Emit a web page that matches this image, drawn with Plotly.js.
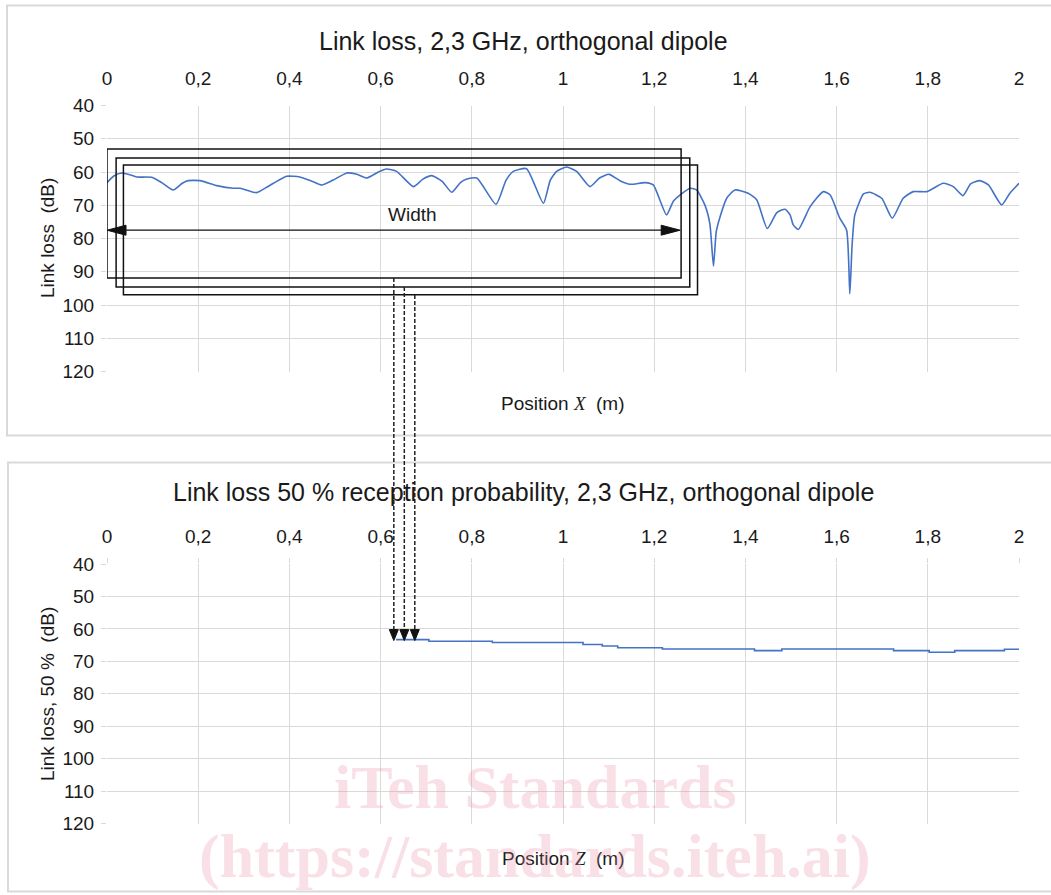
<!DOCTYPE html>
<html><head><meta charset="utf-8">
<script src="https://cdn.plot.ly/plotly-3.0.1.min.js"></script>
<style>html,body{margin:0;padding:0;background:#fff;}</style>
</head><body>
<div id="chart" style="width:1051px;height:895px;"></div>
<script>
// ---- data ----
const positionX = [0.000,0.015,0.032,0.050,0.065,0.098,0.120,0.145,0.165,0.178,0.204,0.241,0.277,0.292,0.328,0.350,0.365,0.394,0.423,0.452,0.471,0.496,0.526,0.548,0.570,0.595,0.613,0.635,0.672,0.692,0.712,0.735,0.756,0.775,0.789,0.811,0.853,0.875,0.891,0.920,0.957,0.972,0.986,1.008,1.030,1.059,1.080,1.101,1.125,1.147,1.180,1.198,1.227,1.242,1.257,1.279,1.293,1.311,1.322,1.330,1.336,1.344,1.359,1.377,1.406,1.425,1.448,1.469,1.487,1.498,1.505,1.516,1.542,1.571,1.586,1.607,1.622,1.629,1.634,1.640,1.659,1.673,1.699,1.722,1.746,1.768,1.798,1.834,1.856,1.877,1.894,1.914,1.933,1.962,1.980,2.000];
const linkLoss = [63.2,61.2,60.3,60.8,61.5,61.6,63.2,65.4,63.4,62.6,62.6,64.1,64.9,64.9,66.2,64.6,63.4,61.3,61.5,62.9,63.9,62.4,60.3,60.7,61.8,60.0,59.1,59.8,64.4,62.2,61.1,62.8,66.1,63.2,62.1,61.8,69.7,62.5,59.8,59.0,69.4,62.5,59.8,58.5,59.8,64.4,61.8,60.7,62.6,63.7,63.2,63.9,72.9,68.8,66.9,64.9,65.4,69.9,75.5,88.3,78.0,73.7,67.9,65.4,66.4,68.4,77.0,72.2,71.2,72.9,75.9,77.3,70.4,65.9,66.9,73.9,77.5,96.6,82.0,72.9,66.6,66.1,67.9,73.9,67.9,65.9,65.9,63.4,64.4,67.1,63.6,62.6,63.9,69.9,66.4,63.4];

const positionZ = [0.634,0.706,0.845,1.044,1.086,1.120,1.218,1.420,1.480,1.725,1.803,1.859,1.968,2.000];
const linkLoss50 = [63.3,63.8,64.2,64.8,65.3,65.8,66.2,66.7,66.2,66.7,67.2,66.7,66.3,66.3];

const xTickVals = [0,0.2,0.4,0.6,0.8,1,1.2,1.4,1.6,1.8,2];
const xTickText = ['0','0,2','0,4','0,6','0,8','1','1,2','1,4','1,6','1,8','2'];
const yTickVals = [40,50,60,70,80,90,100,110,120];
const yTickText = ['40','50','60','70','80','90','100','110','120'];

// annotation geometry (dB / m) for the illustrative "Width" windows
const windowLeft = [0, 0.02, 0.036];
const windowRight = [1.259, 1.278, 1.295];
const windowTop = [53.1, 55.8, 57.9];
const windowBottom = [91.9, 94.6, 96.9];
const windowCentre = [0.629, 0.652, 0.675];

// ---- layout helpers ----
const W = 1051, H = 895;
const px = p => p / W;
const py = p => 1 - p / H;
const FONT = '"Liberation Sans", Arial, sans-serif';
const TXT = '#1a1a1a';
const GRID = '#d9d9d9';
const BLUE = '#4472C4';

const traces = [
  {x: positionX, y: linkLoss, xaxis: 'x', yaxis: 'y', type: 'scatter', mode: 'lines',
   line: {color: BLUE, width: 1.6, shape: 'spline', smoothing: 0.55}, hoverinfo: 'x+y'},
  {x: positionZ, y: linkLoss50, xaxis: 'x2', yaxis: 'y2', type: 'scatter', mode: 'lines',
   line: {color: BLUE, width: 1.6, shape: 'hv'}, hoverinfo: 'x+y'}
];

function xAx(anchor, tl) {
  return {domain: [px(107), px(1019)], range: [0, 2], anchor: anchor, side: 'top',
    tickvals: xTickVals, ticktext: xTickText, showgrid: true, gridcolor: GRID, gridwidth: 1,
    zeroline: false, showline: false, ticks: 'outside', ticklen: tl, tickcolor: GRID,
    ticklabelstandoff: 12 - tl, tickfont: {family: FONT, size: 19, color: TXT}, fixedrange: true};
}
function yAx(anchor, dom) {
  return {domain: dom, range: [120, 40], anchor: anchor,
    tickvals: yTickVals, ticktext: yTickText, showgrid: true, gridcolor: GRID, gridwidth: 1,
    zeroline: false, showline: false, ticks: 'outside', ticklen: 5, tickcolor: GRID,
    ticklabelstandoff: 3, tickfont: {family: FONT, size: 19, color: TXT}, fixedrange: true};
}

const shapes = [];
// panel frames
shapes.push({type: 'rect', xref: 'paper', yref: 'paper', x0: px(7), x1: px(1062), y0: py(435.5), y1: py(5.5),
  line: {color: GRID, width: 2}, layer: 'below'});
shapes.push({type: 'rect', xref: 'paper', yref: 'paper', x0: px(8), x1: px(1062), y0: py(891.5), y1: py(462.5),
  line: {color: GRID, width: 2}, layer: 'below'});
// window rectangles
for (let i = 0; i < 3; i++) {
  shapes.push({type: 'rect', xref: 'x', yref: 'y', x0: windowLeft[i], x1: windowRight[i],
    y0: windowTop[i], y1: windowBottom[i], line: {color: '#111', width: 1.5}, layer: 'above'});
}
// width arrow
shapes.push({type: 'line', xref: 'x', yref: 'y', x0: 0.01, x1: 1.25, y0: 77.5, y1: 77.5,
  line: {color: '#111', width: 1.3}});
shapes.push({type: 'path', xref: 'x', yref: 'y', xsizemode: 'pixel', ysizemode: 'pixel',
  xanchor: 0, yanchor: 77.5, path: 'M0,0 L19,5 L19,-5 Z', fillcolor: '#111', line: {color: '#111', width: 1}});
shapes.push({type: 'path', xref: 'x', yref: 'y', xsizemode: 'pixel', ysizemode: 'pixel',
  xanchor: 1.257, yanchor: 77.5, path: 'M0,0 L-19,5 L-19,-5 Z', fillcolor: '#111', line: {color: '#111', width: 1}});
// dashed drop lines and arrowheads
const dropTop = [278, 287, 295];
for (let i = 0; i < 3; i++) {
  shapes.push({type: 'line', xref: 'x', yref: 'paper', x0: windowCentre[i], x1: windowCentre[i],
    y0: py(dropTop[i]), y1: py(631), line: {color: '#222', width: 1.5, dash: '4px,2px'}});
  shapes.push({type: 'path', xref: 'x2', yref: 'y2', xsizemode: 'pixel', ysizemode: 'pixel',
    xanchor: windowCentre[i], yanchor: linkLoss50[0], path: 'M0,-1 L-4.5,10 L4.5,10 Z',
    fillcolor: '#111', line: {color: '#111', width: 1}});
}

const ann = (text, x, y, size, extra) => Object.assign({text: text, xref: 'paper', yref: 'paper',
  x: px(x), y: py(y), xanchor: 'center', yanchor: 'middle', showarrow: false,
  font: {family: FONT, size: size, color: TXT}}, extra || {});

const ser = '<span style="font-family:\'Liberation Serif\',\'DejaVu Serif\',serif"><i>';
const annotations = [
  ann('Link loss, 2,3 GHz, orthogonal dipole', 523, 41, 25),
  ann('Link loss 50 % reception probability, 2,3 GHz, orthogonal dipole', 523.5, 492, 25),
  ann('Link loss  (dB)', 47, 238, 19, {textangle: -90}),
  ann('Link loss, 50 %  (dB)', 47, 694, 19, {textangle: -90}),
  ann('Position ' + ser + 'X</i></span>  (m)', 563, 404, 19),
  ann('Position ' + ser + 'Z</i></span>  (m)', 563, 858, 19),
  {text: 'Width', xref: 'x', yref: 'y', x: 0.671, y: 72.8, showarrow: false,
   font: {family: FONT, size: 19, color: TXT}},
  ann('<b>iTeh Standards</b>', 535, 787, 62, {font: {family: '"Liberation Serif", serif', size: 62, color: 'rgba(235,140,165,0.28)'}}),
  ann('<b>(https://standards.iteh.ai)</b>', 535, 856, 62, {font: {family: '"Liberation Serif", serif', size: 62, color: 'rgba(235,140,165,0.28)'}})
];

const layout = {
  width: W, height: H, margin: {l: 0, r: 0, t: 0, b: 0},
  paper_bgcolor: '#fff', plot_bgcolor: '#fff', showlegend: false,
  font: {family: FONT, color: TXT},
  xaxis: xAx('y', 0), yaxis: yAx('x', [py(371.5), py(105.5)]),
  xaxis2: xAx('y2', 5), yaxis2: yAx('x2', [py(823.5), py(564)]),
  shapes: shapes, annotations: annotations
};

Plotly.newPlot('chart', traces, layout, {displayModeBar: false, staticPlot: true});
</script>
</body></html>
